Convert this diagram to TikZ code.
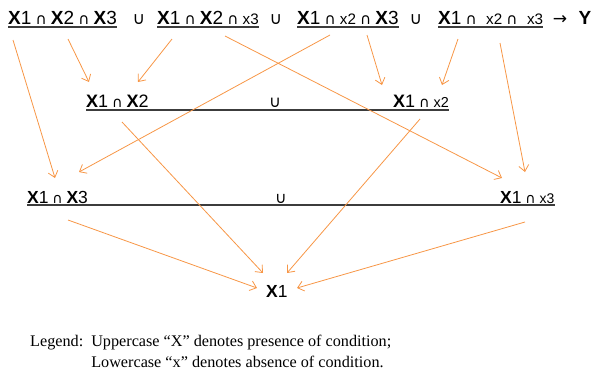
\documentclass[tikz,border=0pt]{standalone}
\usepackage{fontspec}
\usepackage{graphicx}
\setmainfont{Liberation Serif}
\setsansfont{Liberation Sans}
\newfontfamily\symfont{DejaVu Sans}
\usetikzlibrary{arrows.meta}
\definecolor{flow}{RGB}{247,150,70}
\definecolor{rulegray}{RGB}{60,60,60}
\newcommand{\Hi}[1]{\textbf{X}#1}
\newcommand{\Lo}[1]{\scalebox{0.8}{x#1}}
\newcommand{\andop}{\hspace{0.22em}\scalebox{0.8}{\symfont ∩}\hspace{0.22em}}
\newcommand{\orop}{\scalebox{0.9}{\symfont ∪}}
\begin{document}
\begin{tikzpicture}[x=1pt,y=-1pt,
            term/.style={inner sep=0pt, anchor=base west, font=\sffamily\fontsize{19}{21}\selectfont},
            midterm/.style={term, font=\sffamily\fontsize{18}{20}\selectfont},
            lowterm/.style={term, font=\sffamily\fontsize{17.5}{19}\selectfont},
            link/.style={flow, line width=0.8pt, -{Straight Barb[length=6pt,width=10pt]}},
            uline/.style={rulegray, line width=1.3pt}
            ]
            \useasboundingbox (0,0) rectangle (592,376);
            % top row
            \node[term] (A) at (8,24) {\Hi1\andop\Hi2\andop\Hi3};
            \node[term, anchor=base] (u1) at (139,24) {\orop};
            \node[term] (B) at (157,24) {\Hi1\andop\Hi2\andop\Lo3};
            \node[term, anchor=base] (u2) at (276,24) {\orop};
            \node[term] (C) at (297,24) {\Hi1\andop\Lo2\andop\Hi3};
            \node[term, anchor=base] (u3) at (416,24) {\orop};
            \node[term] (D) at (438,24) {\Hi1\andop\ \Lo2\andop\ \Lo3};
            \node[term, anchor=base] (to) at (560,24) {\scalebox{0.9}{\symfont →}};
            \node[term, anchor=base] (Y) at (585,24) {\textbf{Y}};
            \foreach \t in {A,B,C,D}
                \draw[uline] ([shift={(0,3)}]\t.base west) -- ([shift={(0,3)}]\t.base east);
            % middle row
            \node[midterm] (M1) at (86,107) {\Hi1\andop\Hi2};
            \node[midterm, anchor=base] (u4) at (275,107) {\orop};
            \node[midterm] (M2) at (393,107) {\Hi1\andop\Lo2};
            \draw[uline] ([shift={(0,3)}]M1.base west) -- ([shift={(0,3)}]M2.base east);
            % bottom row
            \node[lowterm] (L) at (27,203) {\Hi1\andop\Hi3};
            \node[lowterm, anchor=base] (u5) at (281,203) {\orop};
            \node[lowterm] (R) at (500,203) {\Hi1\andop\Lo3};
            \draw[uline] ([shift={(0,2)}]L.base west) -- ([shift={(0,2)}]R.base east);
            \node[lowterm] (X1) at (266,297) {\Hi1};
            % arrows
            \draw[link] ([shift={(5,16)}]A.base west) -- ([shift={(28,-25)}]L.base west);
            \draw[link] ([shift={(60,15)}]A.base west) -- ([shift={(3,-25)}]M1.base west);
            \draw[link] ([shift={(15,15)}]B.base west) -- ([shift={(52,-25)}]M1.base west);
            \draw[link] ([shift={(68,12)}]B.base west) -- ([shift={(2,-25)}]R.base west);
            \draw[link] ([shift={(33,11)}]C.base west) -- ([shift={(52,-31)}]L.base west);
            \draw[link] ([shift={(70,11)}]C.base west) -- ([shift={(-11,-22)}]M2.base west);
            \draw[link] ([shift={(20,15)}]D.base west) -- ([shift={(49,-22)}]M2.base west);
            \draw[link] ([shift={(62,19)}]D.base west) -- ([shift={(25,-31)}]R.base west);
            \draw[link] ([shift={(36,15)}]M1.base west) -- ([shift={(-3,-24)}]X1.base west);
            \draw[link] ([shift={(27,12)}]M2.base west) -- ([shift={(21,-24)}]X1.base west);
            \draw[link] ([shift={(41,17)}]L.base west) -- ([shift={(-9,-9)}]X1.base west);
            \draw[link] ([shift={(25,19)}]R.base west) -- ([shift={(31,-9)}]X1.base west);
            % legend
            \node[anchor=base west, inner sep=0pt, font=\rmfamily\fontsize{16.2}{21.5}\selectfont] (legend) at (30,346)
                {\begin{tabular}[t]{@{}l@{\hspace{8pt}}l@{}}
                 Legend: & Uppercase “X” denotes presence of condition;\\
                         & Lowercase “x” denotes absence of condition.
                 \end{tabular}};
\end{tikzpicture}
\end{document}
